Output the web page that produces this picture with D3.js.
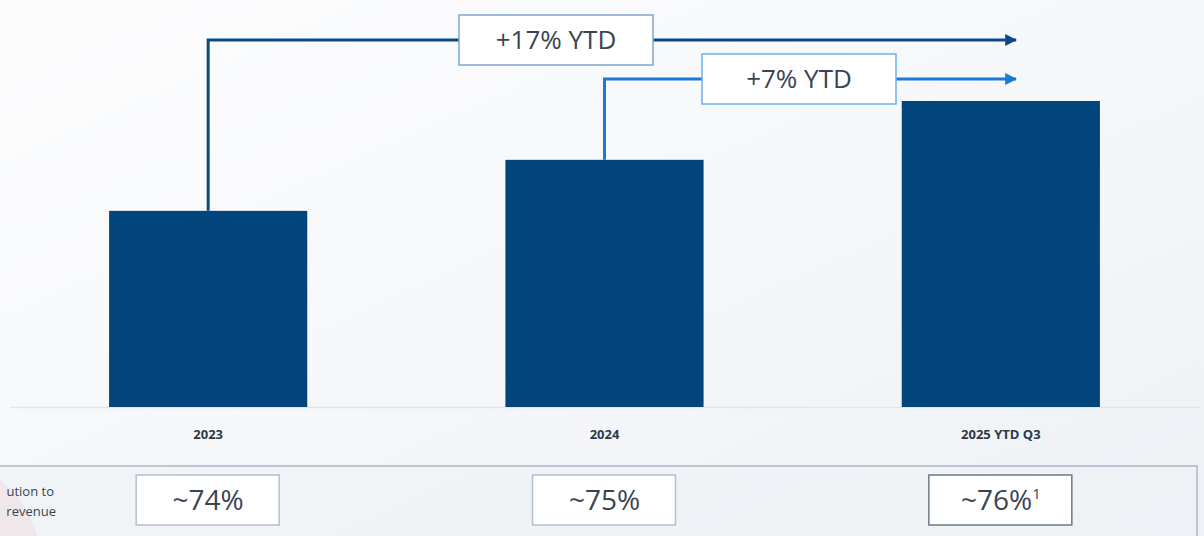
<!DOCTYPE html>
<html>
<head>
<meta charset="utf-8">
<script src="https://cdn.jsdelivr.net/npm/d3@7"></script>
<style>
  body { margin: 0; background: #fbfbfc; }
  svg { display: block; }
</style>
</head>
<body>
<div id="chart"></div>
<script>
// chart data
var categories = ["2023", "2024", "2025 YTD Q3"];
var values = [100, 126, 156];           // relative bar heights, no axis shown
var shares = ["~74%", "~75%", "~76%"];
var shareNotes = ["", "", "1"];
var growthLabels = ["+17% YTD", "+7% YTD"];
var growthFrom = [0, 1];                 // bar the bracket starts at

var width = 1204,
    height = 536;

var svg = d3.select("#chart")
    .append("svg")
    .attr("width", width)
    .attr("height", height)
    .style("font-family", "'Open Sans', 'Noto Sans', sans-serif");

// background gradient like the slide
var defs = svg.append("defs");
var bg = defs.append("linearGradient").attr("id", "bg").attr("x1", 0).attr("x2", 1).attr("y1", 0).attr("y2", 1);
bg.append("stop").attr("offset", "0%").attr("stop-color", "#fdfdfe");
bg.append("stop").attr("offset", "100%").attr("stop-color", "#eef1f5");
svg.append("rect").attr("width", width).attr("height", height).attr("fill", "url(#bg)");

// faint logo swoosh at bottom left
svg.append("circle")
    .attr("cx", -60).attr("cy", 560).attr("r", 100)
    .attr("fill", "#f1c9cc").attr("opacity", 0.7);

var x = d3.scaleBand()
    .domain(categories)
    .range([10, 1199])
    .paddingInner(0.5)
    .paddingOuter(0.25);

var baseY = 407;
var y = d3.scaleLinear()
    .domain([0, d3.max(values)])
    .range([baseY, 101]);

// baseline
svg.append("line")
    .attr("x1", 10).attr("x2", 1200)
    .attr("y1", baseY + 0.5).attr("y2", baseY + 0.5)
    .attr("stroke", "#e1e5ea").attr("stroke-width", 1.5);

// bars
svg.append("g")
    .selectAll("rect")
    .data(values)
    .enter()
    .append("rect")
    .attr("x", function (d, i) { return x(categories[i]); })
    .attr("y", function (d) { return y(d); })
    .attr("width", x.bandwidth())
    .attr("height", function (d) { return baseY - y(d); })
    .attr("fill", "#02457d");

// category labels
svg.append("g")
    .selectAll("text")
    .data(categories)
    .enter()
    .append("text")
    .attr("x", function (d) { return x(d) + x.bandwidth() / 2; })
    .attr("y", 439)
    .attr("text-anchor", "middle")
    .attr("font-size", 13)
    .attr("font-weight", "bold")
    .attr("fill", "#2e3946")
    .text(function (d) { return d; });

// growth brackets with arrows
var lineColors = ["#0b4a87", "#1a7ad6"];
var lineY = [40, 79];
var boxX = [459, 702];
var boxW = 194;
var arrowEnd = 1016;

lineColors.forEach(function (c, i) {
    defs.append("marker")
        .attr("id", "arrow" + i)
        .attr("viewBox", "0 0 10 10")
        .attr("refX", 9).attr("refY", 5)
        .attr("markerWidth", 4).attr("markerHeight", 4)
        .attr("orient", "auto")
        .append("path")
        .attr("d", "M0,0L10,5L0,10z")
        .attr("fill", c);
});

var brackets = svg.append("g")
    .selectAll("g")
    .data(growthLabels)
    .enter()
    .append("g");

brackets.append("path")
    .attr("d", function (d, i) {
        var bi = growthFrom[i];
        var cx = x(categories[bi]) + x.bandwidth() / 2;
        return "M" + cx + "," + y(values[bi]) + "V" + lineY[i] + "H" + arrowEnd;
    })
    .attr("fill", "none")
    .attr("stroke", function (d, i) { return lineColors[i]; })
    .attr("stroke-width", 3)
    .attr("marker-end", function (d, i) { return "url(#arrow" + i + ")"; });

brackets.append("rect")
    .attr("x", function (d, i) { return boxX[i]; })
    .attr("y", function (d, i) { return lineY[i] - 25; })
    .attr("width", boxW)
    .attr("height", 50)
    .attr("fill", "#ffffff")
    .attr("stroke", function (d, i) { return i === 0 ? "#7ea6cc" : "#6fb0ea"; })
    .attr("stroke-width", 1.5);

brackets.append("text")
    .attr("x", function (d, i) { return boxX[i] + boxW / 2; })
    .attr("y", function (d, i) { return lineY[i] + 9; })
    .attr("text-anchor", "middle")
    .attr("font-size", 26)
    .attr("fill", "#3a4452")
    .text(function (d) { return d; });

// bottom panel
svg.append("rect")
    .attr("x", -5).attr("y", 466)
    .attr("width", 1202).attr("height", 90)
    .attr("fill", "#eef1f5")
    .attr("fill-opacity", 0.6)
    .attr("stroke", "#a9b8c6")
    .attr("stroke-width", 1.5);

svg.append("text")
    .attr("x", 54).attr("y", 496)
    .attr("text-anchor", "end")
    .attr("font-size", 13)
    .attr("fill", "#3a4452")
    .text("ution to");
svg.append("text")
    .attr("x", 56).attr("y", 516)
    .attr("text-anchor", "end")
    .attr("font-size", 13)
    .attr("fill", "#3a4452")
    .text("revenue");

var shareBoxW = 143;
var shareG = svg.append("g")
    .selectAll("g")
    .data(shares)
    .enter()
    .append("g");

shareG.append("rect")
    .attr("x", function (d, i) { return x(categories[i]) + x.bandwidth() / 2 - 72; })
    .attr("y", 475)
    .attr("width", shareBoxW)
    .attr("height", 50)
    .attr("fill", "#ffffff")
    .attr("stroke", function (d, i) { return i === 2 ? "#6b7885" : "#b4c0cb"; })
    .attr("stroke-width", 1.5);

var shareText = shareG.append("text")
    .attr("x", function (d, i) { return x(categories[i]) + x.bandwidth() / 2; })
    .attr("y", 510)
    .attr("text-anchor", "middle")
    .attr("font-size", 28)
    .attr("fill", "#3a4452");

shareText.append("tspan").text(function (d) { return d; });
shareText.append("tspan")
    .attr("font-size", 15)
    .attr("dy", -11)
    .text(function (d, i) { return shareNotes[i]; });
</script>
</body>
</html>
